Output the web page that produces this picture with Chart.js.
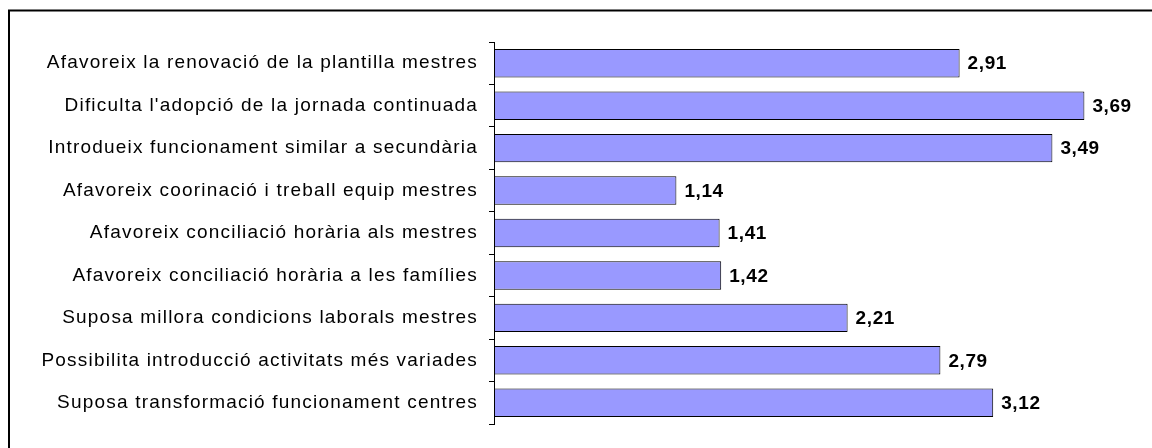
<!DOCTYPE html>
<html>
<head>
<meta charset="utf-8">
<script src="https://cdn.jsdelivr.net/npm/chart.js@4/dist/chart.umd.min.js"></script>
<style>
html,body{margin:0;padding:0;background:#fff;}
#wrap{width:1152px;height:448px;position:relative;}
</style>
</head>
<body>
<div id="wrap"><canvas id="c" width="1152" height="448"></canvas></div>
<script>
const categories = [
  "Afavoreix la renovació de la plantilla mestres",
  "Dificulta l'adopció de la jornada continuada",
  "Introdueix funcionament similar a secundària",
  "Afavoreix coorinació i treball equip mestres",
  "Afavoreix conciliació horària als mestres",
  "Afavoreix conciliació horària a les famílies",
  "Suposa millora condicions laborals mestres",
  "Possibilita introducció activitats més variades",
  "Suposa transformació funcionament centres"
];
const values = [2.91, 3.69, 3.49, 1.14, 1.41, 1.42, 2.21, 2.79, 3.12];
const axisMin = 0;
const axisMax = 4;

const LS = '1.2px';

const framePlugin = {
  id: 'frame',
  beforeDraw(chart) {
    const ctx = chart.ctx;
    ctx.save();
    ctx.fillStyle = '#fff';
    ctx.fillRect(0, 0, chart.width, chart.height);
    ctx.strokeStyle = '#000';
    ctx.lineWidth = 2;
    ctx.strokeRect(9, 10.5, chart.width + 20, chart.height + 20);
    ctx.restore();
    ctx.letterSpacing = LS;
  },
  afterDatasetsDraw(chart) {
    const ctx = chart.ctx;
    const meta = chart.getDatasetMeta(0);
    ctx.save();
    ctx.letterSpacing = '0.6px';
    ctx.font = 'bold 19px "Liberation Sans", Arial, sans-serif';
    ctx.fillStyle = '#000';
    ctx.textAlign = 'left';
    ctx.textBaseline = 'middle';
    meta.data.forEach((bar, i) => {
      const txt = values[i].toFixed(2).replace('.', ',');
      ctx.fillText(txt, bar.x + 8, bar.y + 1);
    });
    ctx.restore();
  }
};

new Chart(document.getElementById('c'), {
  type: 'bar',
  data: {
    labels: categories,
    datasets: [{
      data: values,
      backgroundColor: '#9999FF',
      borderColor: '#000',
      borderWidth: 1,
      borderSkipped: false,
      categoryPercentage: 1,
      barPercentage: 0.67
    }]
  },
  plugins: [framePlugin],
  options: {
    indexAxis: 'y',
    responsive: false,
    animation: false,
    devicePixelRatio: 1,
    layout: { padding: { left: 0, top: 42, bottom: 24, right: 18 } },
    plugins: { legend: { display: false }, tooltip: { enabled: false } },
    scales: {
      x: { display: false, min: axisMin, max: axisMax },
      y: {
        afterFit(scale) { scale.width = 494; },
        grid: {
          display: true,
          offset: true,
          drawOnChartArea: false,
          drawTicks: true,
          tickLength: 5,
          color: '#000',
          lineWidth: 1
        },
        border: { display: true, color: '#000', width: 1 },
        ticks: {
          color: '#000',
          padding: 11,
          font: { family: '"Liberation Sans", Arial, sans-serif', size: 19 }
        }
      }
    }
  }
});
</script>
</body>
</html>
